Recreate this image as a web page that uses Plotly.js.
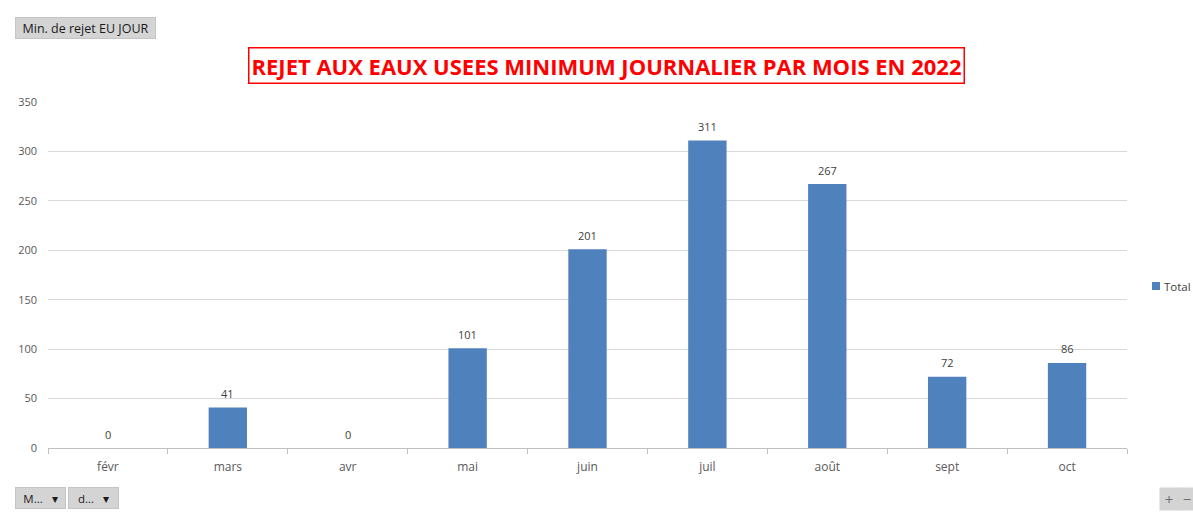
<!DOCTYPE html>
<html><head><meta charset="utf-8">
<script src="https://cdn.plot.ly/plotly-3.0.1.min.js"></script>
<style>html,body{margin:0;padding:0;background:#fff}#chart{width:1193px;height:513px}</style>
</head><body><div id="chart"></div>
<script>
var months = ["févr","mars","avr","mai","juin","juil","août","sept","oct"];
var totals = [0,41,0,101,201,311,267,72,86];
var yTicks = [0,50,100,150,200,250,300,350];
var titleText = "REJET AUX EAUX USEES MINIMUM JOURNALIER PAR MOIS EN 2022";
var font = "Open Sans, Liberation Sans, sans-serif";

var trace = {
  type: "bar", x: months, y: totals, name: "Total",
  marker: {color: "#4f81bd", line: {width: 0}},
  hoverinfo: "none"
};

var labelAnns = months.map(function(m, i){
  return {x: m, y: totals[i], xref: "x", yref: "y", text: String(totals[i]), showarrow: false,
    yanchor: "middle", yshift: 14, font: {family: font, size: 11, color: "#404040"}};
});

function btn(x, y, text, w, h, size) {
  return {xref: "paper", yref: "paper", x: x, y: y, xanchor: "left", yanchor: "top",
    text: text, showarrow: false, bgcolor: "#d4d4d4", bordercolor: "#c4c4c4", borderwidth: 1,
    width: w, height: h, align: "center", font: {family: font, size: size || 11.5, color: "#1a1a1a"}, borderpad: 0};
}

var L = 48, R = 1127, T = 102, B = 448, W = 1193, H = 513;
function px(x){return (x - L)/(R - L);}
function py(y){return (B - y)/(B - T);}

var layout = {
  width: W, height: H,
  margin: {l: L, r: W - R, t: T, b: H - B, pad: 0, autoexpand: false},
  paper_bgcolor: "#fff", plot_bgcolor: "#fff",
  bargap: 0.68,
  showlegend: true,
  legend: {x: px(1136), y: py(286), xanchor: "left", yanchor: "middle", font: {family: font, size: 11.5, color: "#404040"}, itemwidth: 30, bgcolor: "rgba(0,0,0,0)"},
  xaxis: {type: "category", tickson: "boundaries", ticks: "outside", ticklen: 5, tickcolor: "#bfbfbf",
    showline: true, linecolor: "#bfbfbf", showgrid: false, ticklabelstandoff: 8, fixedrange: true,
    tickfont: {family: font, size: 12, color: "#595959"}},
  yaxis: {range: [0, 350], tickvals: yTicks, showgrid: true, gridcolor: "#d9d9d9", zeroline: false, fixedrange: true,
    showline: false, ticks: "", tickfont: {family: font, size: 11, color: "#595959"}, ticklabelstandoff: 10},
  annotations: labelAnns.concat([
    {xref: "paper", yref: "paper", x: px(606), y: py(65.5), xanchor: "center", yanchor: "middle",
     text: "<b>" + titleText + "</b>", showarrow: false, bordercolor: "#ff0000", borderwidth: 1.5,
     borderpad: 2, font: {family: "Open Sans, sans-serif", size: 22, color: "#ff0000"}},
    btn(px(15), py(17), "Min. de rejet EU JOUR", 139, 20, 12.5),
    btn(px(15), py(487), "M...   ▾", 49, 20),
    btn(px(68), py(487), "d...   ▾", 49, 20),
    {xref: "paper", yref: "paper", x: px(1159), y: py(487), xanchor: "left", yanchor: "top", text: "+", showarrow: false,
     bgcolor: "#d4d4d4", width: 16, height: 20, font: {family: font, size: 15, color: "#707070"}},
    {xref: "paper", yref: "paper", x: px(1177), y: py(487), xanchor: "left", yanchor: "top", text: "−", showarrow: false,
     bgcolor: "#d4d4d4", width: 16, height: 20, font: {family: font, size: 15, color: "#707070"}}
  ])
};
Plotly.newPlot("chart", [trace], layout, {displayModeBar: false, responsive: false, staticPlot: true}).then(function(gd){
  // tighten the legend entry: smaller square, text closer to it (as in the reference)
  gd.querySelectorAll(".legend .legendpoints path").forEach(function(p){ p.setAttribute("d", "M4,4H-4V-4H4Z"); });
  gd.querySelectorAll(".legend .legendtext").forEach(function(t){ t.setAttribute("x", "28"); });
});
</script></body></html>
